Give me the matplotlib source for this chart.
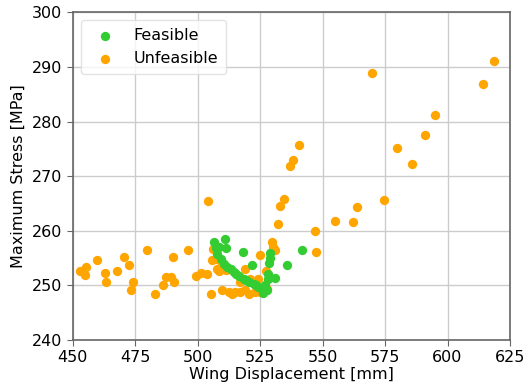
import matplotlib
matplotlib.use("Agg")
import matplotlib.pyplot as plt

# Feasible designs
feas_x = [506.7, 511.0, 511.4, 508.5, 518.2, 521.8, 529.1, 528.8, 528.5, 531.1,
          535.6, 541.9, 527.5, 526.1,
          507.9, 509.2, 510.5, 511.8, 513.2, 514.5, 516.4, 518.4, 520.4, 522.4,
          524.3, 526.3, 527.6, 527.0, 528.0, 528.3, 507.2, 515.4, 519.4, 523.3]
feas_y = [258.0, 258.5, 256.8, 257.1, 256.1, 253.8, 255.9, 255.0, 254.1, 251.3,
          253.8, 256.5, 249.1, 248.6,
          255.8, 254.8, 253.9, 253.3, 253.0, 252.4, 251.8, 251.2, 250.7, 250.3,
          249.7, 249.4, 249.1, 250.0, 251.2, 252.1, 256.9, 252.1, 251.0, 250.0]

# Unfeasible designs
unf_x = [452.8, 455.5, 454.9, 459.6, 463.0, 463.2, 467.9, 470.6, 472.7, 474.2,
         473.4, 479.8, 482.8, 486.0, 487.4, 490.1, 489.3, 490.4, 496.1, 504.2,
         506.3, 505.9, 507.9, 509.2, 499.3, 501.3, 503.9, 507.6, 508.6, 511.2,
         512.5, 505.3, 509.9, 512.5, 513.8, 515.1, 517.1, 519.1, 520.4, 523.0,
         525.0, 527.6, 519.1, 521.1, 524.3, 517.1, 527.2, 525.0, 529.6, 530.3,
         531.0, 532.3, 532.9, 534.6, 537.1, 538.2, 540.6, 547.0, 547.2, 554.9,
         562.3, 563.6, 569.9, 574.7, 579.8, 585.7, 591.0, 595.0, 614.2, 618.5]
unf_y = [252.6, 253.3, 251.9, 254.6, 252.2, 250.7, 252.6, 255.2, 253.8, 250.7,
         249.1, 256.4, 248.4, 250.0, 251.6, 255.2, 251.5, 250.7, 256.5, 265.4,
         256.7, 254.7, 254.8, 254.5, 251.8, 252.2, 252.0, 253.0, 252.7, 252.9,
         253.0, 248.5, 249.1, 248.8, 248.5, 248.8, 248.8, 249.1, 248.5, 248.8,
         248.8, 249.4, 253.0, 251.2, 251.2, 250.6, 252.7, 255.6, 257.9, 257.0,
         256.4, 261.2, 264.6, 265.9, 271.9, 273.0, 275.7, 260.0, 256.2, 261.7,
         261.6, 264.4, 288.9, 265.6, 275.2, 272.2, 277.6, 281.2, 286.8, 291.0]

x_ticks = [450, 475, 500, 525, 550, 575, 600, 625]
y_ticks = [240, 250, 260, 270, 280, 290, 300]

plt.rcParams['font.family'] = ['DejaVu Sans']
fig = plt.figure(figsize=(5.25, 3.9), dpi=100)
ax = fig.add_axes([0.1385, 0.1282, 0.8329, 0.8403])

ax.scatter(feas_x, feas_y, s=45, color='#33cc33', label='Feasible', zorder=4, linewidths=0)
ax.scatter(unf_x, unf_y, s=45, color='#ffa500', label='Unfeasible', zorder=3, linewidths=0)

ax.set_xlim(450, 625)
ax.set_ylim(240, 300)
ax.set_xticks(x_ticks)
ax.set_yticks(y_ticks)
ax.grid(True, color='#cccccc', linewidth=1.0, zorder=0)
ax.set_axisbelow(True)
for sp in ax.spines.values():
    sp.set_color('#666666')
    sp.set_linewidth(1.2)
ax.tick_params(labelsize=11.5, color='#666666', length=4)
ax.set_xlabel('Wing Displacement [mm]', fontsize=11.5, labelpad=1)
ax.set_ylabel('Maximum Stress [MPa]', fontsize=11.5, labelpad=4)

leg = ax.legend(loc='upper left', fontsize=11.5, frameon=True, borderpad=0.5)
leg.get_frame().set_edgecolor('#dddddd')
leg.set_zorder(5)

fig.savefig('out.png', dpi=100)
